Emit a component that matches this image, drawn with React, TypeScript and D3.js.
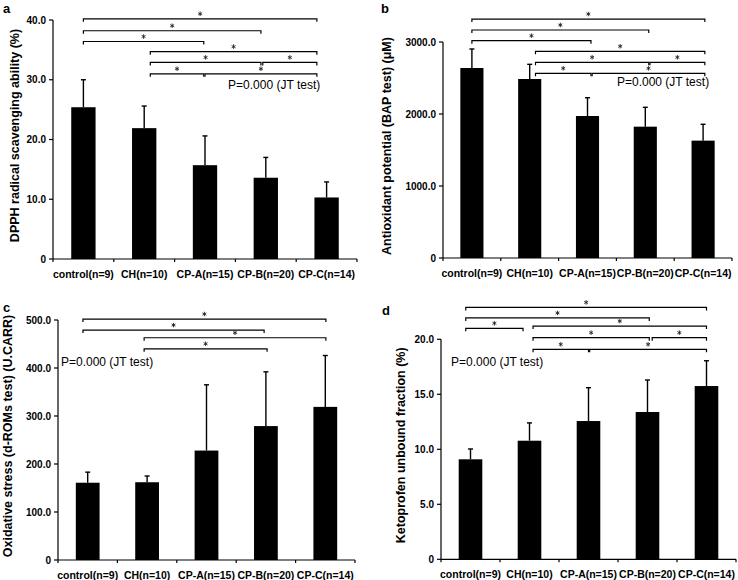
import * as d3 from "d3";
import React from "react";

const width = 738;
const height = 580;
const font = "'Liberation Sans', Arial, sans-serif";

const groups = ["control(n=9)", "CH(n=10)", "CP-A(n=15)", "CP-B(n=20)", "CP-C(n=14)"];

// a: DPPH radical scavenging ability
const dpphMean = [25.4, 21.9, 15.7, 13.6, 10.3];
const dpphSd = [4.6, 3.7, 4.9, 3.4, 2.6];
const dpphTicks = [0, 10, 20, 30, 40];
// [from group, to group, level] (group positions may be fractional)
const dpphBrackets = [
  [0, 3.84, 40.2],
  [0, 2.92, 38.2],
  [0, 1.98, 36.4],
  [1.1, 3.84, 34.7],
  [1.1, 2.92, 32.9],
  [2.95, 3.84, 32.9],
  [1.1, 1.98, 31.0],
  [2.0, 3.84, 31.0],
];

// b: BAP test
const bapMean = [2639, 2486, 1972, 1824, 1630];
const bapSd = [264, 204, 254, 269, 227];
const bapTicks = [0, 1000, 2000, 3000];
const bapBrackets = [
  [0, 4.03, 3319],
  [0, 3.06, 3167],
  [0, 2.06, 3018],
  [1.1, 4.03, 2871],
  [1.1, 3.06, 2718],
  [3.08, 4.03, 2718],
  [1.1, 2.06, 2565],
  [2.08, 4.03, 2565],
];

// c: d-ROMs test
const dromsMean = [161, 162, 228, 279, 319];
const dromsSd = [22, 13, 137, 113, 107];
const dromsTicks = [0, 100, 200, 300, 400, 500];
const dromsBrackets = [
  [-0.08, 4.01, 502],
  [-0.08, 2.97, 479],
  [0.95, 4.01, 463],
  [0.95, 3.02, 440],
];

// d: ketoprofen unbound fraction
const ketoMean = [9.09, 10.78, 12.57, 13.39, 15.75];
const ketoSd = [0.94, 1.62, 3.03, 2.91, 2.3];
const ketoTicks = [0, 5, 10, 15, 20];
const ketoBrackets = [
  [-0.08, 4.0, 22.9],
  [-0.08, 3.03, 21.94],
  [-0.08, 0.89, 21.0],
  [1.06, 4.0, 21.2],
  [1.06, 3.03, 20.15],
  [3.08, 4.0, 20.15],
  [1.06, 2.0, 19.09],
  [2.02, 4.0, 19.09],
];

const pText = "P=0.000 (JT test)";

const panels = [
  {
    id: "a", lx: 3, ly: 12.5, title: "DPPH radical scavenging ability (%)", tx: 15,
    mean: dpphMean, sd: dpphSd, ticks: dpphTicks, brackets: dpphBrackets,
    xr: [53, 357], yr: [259, 20], p: [2.38, 28.45],
  },
  {
    id: "b", lx: 381, ly: 13, title: "Antioxidant potential (BAP test) (\u03bcM)", tx: 386.5,
    mean: bapMean, sd: bapSd, ticks: bapTicks, brackets: bapBrackets,
    xr: [443, 732], yr: [258, 42], p: [2.51, 2389],
  },
  {
    id: "c", lx: 3, ly: 312, title: "Oxidative stress (d-ROMs test) (U.CARR)", tx: 7.5,
    mean: dromsMean, sd: dromsSd, ticks: dromsTicks, brackets: dromsBrackets,
    xr: [58, 355], yr: [560, 320], p: [-0.45, 404],
  },
  {
    id: "d", lx: 382, ly: 315, title: "Ketoprofen unbound fraction (%)", tx: 401,
    mean: ketoMean, sd: ketoSd, ticks: ketoTicks, brackets: ketoBrackets,
    xr: [441, 736], yr: [559.3, 339.3], p: [-0.33, 17.57],
  },
];

const star = d3.symbol().type(d3.symbolAsterisk).size(14)();

const Panel = ({ cfg }: { cfg: any }) => {
  const band = d3.scaleBand().domain(groups).range(cfg.xr).padding(0);
  const bar = d3
    .scaleBand()
    .domain(groups)
    .range(cfg.xr)
    .paddingInner(0.6)
    .paddingOuter(0.3);
  const max = cfg.ticks[cfg.ticks.length - 1];
  const y = d3.scaleLinear().domain([0, max]).range(cfg.yr);
  const c0 = band(groups[0])! + band.bandwidth() / 2;
  const c4 = band(groups[4])! + band.bandwidth() / 2;
  const pos = d3.scaleLinear().domain([0, 4]).range([c0, c4]);
  const y0 = y(0);
  const fmt = (v: number) => (v === 0 ? "0" : v.toFixed(1));
  const bounds = groups.map((g) => band(g)!).concat([cfg.xr[1]]);

  return (
    <g>
      <text x={cfg.lx} y={cfg.ly} fontSize={13} fontWeight="bold">
        {cfg.id}
      </text>

      {/* bars */}
      {groups.map((g, i) => (
        <rect
          key={g}
          x={bar(g)}
          y={y(cfg.mean[i])}
          width={bar.bandwidth()}
          height={y0 - y(cfg.mean[i])}
          fill="#000"
        />
      ))}

      {/* error bars, upper side only */}
      {groups.map((g, i) => {
        const cx = bar(g)! + bar.bandwidth() / 2;
        const top = y(cfg.mean[i] + cfg.sd[i]);
        return (
          <g key={g} stroke="#000" strokeWidth={1.4}>
            <line x1={cx} x2={cx} y1={y(cfg.mean[i])} y2={top} />
            <line x1={cx - 2.5} x2={cx + 2.5} y1={top} y2={top} />
          </g>
        );
      })}

      {/* y axis */}
      <line x1={cfg.xr[0]} x2={cfg.xr[0]} y1={y0} y2={y(max)} stroke="#000" strokeWidth={1.2} />
      {cfg.ticks.map((t: number) => (
        <g key={t}>
          <line x1={cfg.xr[0] - 4} x2={cfg.xr[0]} y1={y(t)} y2={y(t)} stroke="#000" strokeWidth={1.2} />
          <text
            x={cfg.xr[0] - 7}
            y={y(t)}
            dy="0.35em"
            textAnchor="end"
            fontSize={10}
            fontWeight="bold"
          >
            {fmt(t)}
          </text>
        </g>
      ))}

      {/* x axis */}
      <line x1={cfg.xr[0]} x2={cfg.xr[1]} y1={y0} y2={y0} stroke="#000" strokeWidth={1.2} />
      {bounds.map((bx: number, i: number) => (
        <line key={i} x1={bx} x2={bx} y1={y0} y2={y0 + 3} stroke="#000" strokeWidth={1.2} />
      ))}
      {groups.map((g) => (
        <text
          key={g}
          x={band(g)! + band.bandwidth() / 2}
          y={y0 + 19}
          textAnchor="middle"
          fontSize={10.5}
          fontWeight="bold"
        >
          {g}
        </text>
      ))}

      {/* axis title */}
      <text
        transform={`translate(${cfg.tx},${(y0 + y(max)) / 2 - 4}) rotate(-90)`}
        dy="0.35em"
        textAnchor="middle"
        fontSize={12.5}
        fontWeight="bold"
      >
        {cfg.title}
      </text>

      {/* significance brackets */}
      {cfg.brackets.map((b: number[], i: number) => {
        const x1 = pos(b[0]);
        const x2 = pos(b[1]);
        const by = y(b[2]);
        return (
          <g key={i}>
            <path
              d={`M${x1},${by + 3}V${by}H${x2}V${by + 3}`}
              fill="none"
              stroke="#000"
              strokeWidth={1.2}
            />
            <path
              d={star!}
              transform={`translate(${(x1 + x2) / 2},${by - 5})`}
              fill="none"
              stroke="#222"
              strokeWidth={0.9}
            />
          </g>
        );
      })}

      <text x={pos(cfg.p[0])} y={y(cfg.p[1])} fontSize={12}>
        {pText}
      </text>
    </g>
  );
};

export default function App() {
  return (
    <svg
      width={width}
      height={height}
      style={{ position: "absolute", left: 0, top: 0, background: "#fff" }}
      fontFamily={font}
      fill="#000"
    >
      {panels.map((p) => (
        <Panel key={p.id} cfg={p} />
      ))}
    </svg>
  );
}
